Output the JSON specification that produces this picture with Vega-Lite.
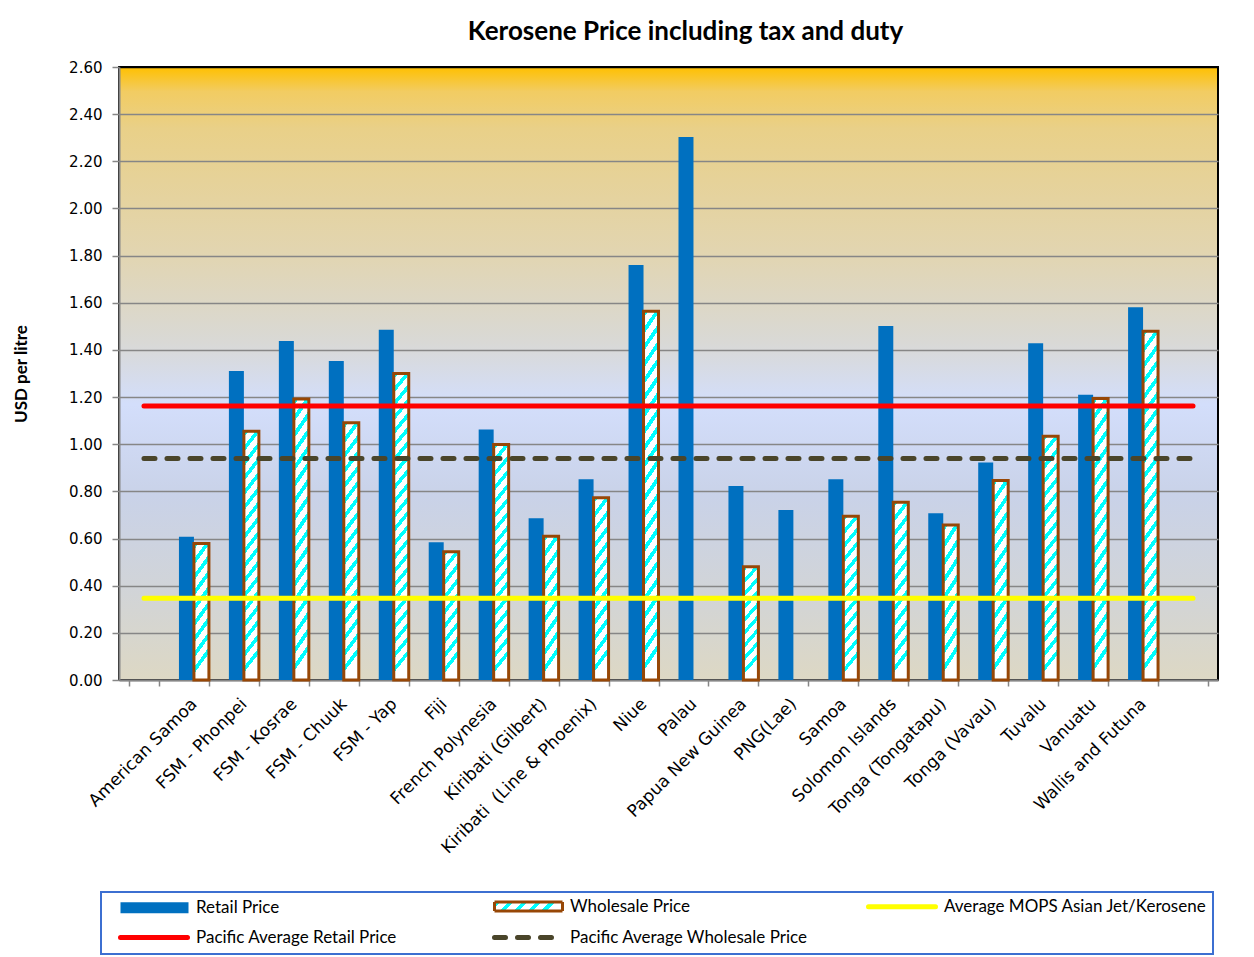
{
  "$schema": "https://vega.github.io/schema/vega-lite/v6.json",
  "width": 1099,
  "height": 613,
  "autosize": {"type": "none"},
  "padding": {"left": 119, "top": 67, "right": 36, "bottom": 277},
  "background": "white",
  "title": {"text": "Kerosene Price including tax and duty", "font": "Lato", "fontSize": 26, "fontWeight": "bold", "color": "black", "anchor": "middle", "dx": 17, "offset": 15},
  "view": {
    "stroke": "black",
    "strokeWidth": 2,
    "fill": {"gradient": "linear", "x1": 0, "y1": 0, "x2": 0, "y2": 1, "stops": [
      {"offset": 0, "color": "#FFC000"},
      {"offset": 0.04, "color": "#F2CC62"},
      {"offset": 0.1, "color": "#E9D088"},
      {"offset": 0.3, "color": "#E2D5B0"},
      {"offset": 0.45, "color": "#D9D9D6"},
      {"offset": 0.55, "color": "#D3DEFB"},
      {"offset": 0.7, "color": "#C9D2E8"},
      {"offset": 0.85, "color": "#D1D4D8"},
      {"offset": 1, "color": "#DDD8C4"}
    ]}
  },
  "datasets": {
    "bars": [
      {"c": "American Samoa", "s": "Retail Price", "v": 0.608},
      {"c": "American Samoa", "s": "Wholesale Price", "v": 0.579},
      {"c": "FSM - Phonpei", "s": "Retail Price", "v": 1.311},
      {"c": "FSM - Phonpei", "s": "Wholesale Price", "v": 1.055},
      {"c": "FSM - Kosrae", "s": "Retail Price", "v": 1.438},
      {"c": "FSM - Kosrae", "s": "Wholesale Price", "v": 1.192},
      {"c": "FSM - Chuuk", "s": "Retail Price", "v": 1.353},
      {"c": "FSM - Chuuk", "s": "Wholesale Price", "v": 1.091},
      {"c": "FSM - Yap", "s": "Retail Price", "v": 1.486},
      {"c": "FSM - Yap", "s": "Wholesale Price", "v": 1.300},
      {"c": "Fiji", "s": "Retail Price", "v": 0.584},
      {"c": "Fiji", "s": "Wholesale Price", "v": 0.544},
      {"c": "French Polynesia", "s": "Retail Price", "v": 1.063},
      {"c": "French Polynesia", "s": "Wholesale Price", "v": 0.999},
      {"c": "Kiribati (Gilbert)", "s": "Retail Price", "v": 0.686},
      {"c": "Kiribati (Gilbert)", "s": "Wholesale Price", "v": 0.610},
      {"c": "Kiribati \u00a0(Line & Phoenix)", "s": "Retail Price", "v": 0.851},
      {"c": "Kiribati \u00a0(Line & Phoenix)", "s": "Wholesale Price", "v": 0.773},
      {"c": "Niue", "s": "Retail Price", "v": 1.760},
      {"c": "Niue", "s": "Wholesale Price", "v": 1.564},
      {"c": "Palau", "s": "Retail Price", "v": 2.303},
      {"c": "Papua New Guinea", "s": "Retail Price", "v": 0.823},
      {"c": "Papua New Guinea", "s": "Wholesale Price", "v": 0.480},
      {"c": "PNG(Lae)", "s": "Retail Price", "v": 0.721},
      {"c": "Samoa", "s": "Retail Price", "v": 0.851},
      {"c": "Samoa", "s": "Wholesale Price", "v": 0.695},
      {"c": "Solomon Islands", "s": "Retail Price", "v": 1.501},
      {"c": "Solomon Islands", "s": "Wholesale Price", "v": 0.754},
      {"c": "Tonga (Tongatapu)", "s": "Retail Price", "v": 0.707},
      {"c": "Tonga (Tongatapu)", "s": "Wholesale Price", "v": 0.657},
      {"c": "Tonga (Vavau)", "s": "Retail Price", "v": 0.922},
      {"c": "Tonga (Vavau)", "s": "Wholesale Price", "v": 0.846},
      {"c": "Tuvalu", "s": "Retail Price", "v": 1.428},
      {"c": "Tuvalu", "s": "Wholesale Price", "v": 1.034},
      {"c": "Vanuatu", "s": "Retail Price", "v": 1.210},
      {"c": "Vanuatu", "s": "Wholesale Price", "v": 1.194},
      {"c": "Wallis and Futuna", "s": "Retail Price", "v": 1.581},
      {"c": "Wallis and Futuna", "s": "Wholesale Price", "v": 1.479}
    ],
    "lines": [
      {"c": " ", "s": "Average MOPS Asian Jet/Kerosene", "v": 0.347},
      {"c": "  ", "s": "Average MOPS Asian Jet/Kerosene", "v": 0.347},
      {"c": " ", "s": "Pacific Average Retail Price", "v": 1.162},
      {"c": "  ", "s": "Pacific Average Retail Price", "v": 1.162},
      {"c": " ", "s": "Pacific Average Wholesale Price", "v": 0.939},
      {"c": "  ", "s": "Pacific Average Wholesale Price", "v": 0.939}
    ]
  },
  "layer": [
    {
      "data": {"name": "bars"},
      "mark": {"type": "bar"},
      "encoding": {
        "x": {
          "field": "c", "type": "nominal",
          "scale": {"domain": [" ", "American Samoa", "FSM - Phonpei", "FSM - Kosrae", "FSM - Chuuk", "FSM - Yap", "Fiji", "French Polynesia", "Kiribati (Gilbert)", "Kiribati \u00a0(Line & Phoenix)", "Niue", "Palau", "Papua New Guinea", "PNG(Lae)", "Samoa", "Solomon Islands", "Tonga (Tongatapu)", "Tonga (Vavau)", "Tuvalu", "Vanuatu", "Wallis and Futuna", "  "], "paddingInner": 0.4, "paddingOuter": 0.2},
          "axis": {"title": null}
        },
        "xOffset": {"field": "s", "type": "nominal", "scale": {"domain": ["Retail Price", "Wholesale Price"], "paddingInner": 0, "paddingOuter": 0}},
        "y": {
          "field": "v", "type": "quantitative",
          "scale": {"domain": [0, 2.6], "nice": false, "zero": true},
          "axis": {"title": "USD per litre", "values": [0, 0.2, 0.4, 0.6, 0.8, 1, 1.2, 1.4, 1.6, 1.8, 2, 2.2, 2.4, 2.6], "format": ".2f",
            "gridColor": {"condition": {"test": "datum.value === 2.6", "value": "black"}, "value": "#868686"}}
        },
        "strokeWidth": {"condition": {"test": "datum.s === 'Retail Price'", "value": 0}, "value": 3},
        "stroke": {"value": "#974706"},
        "fill": {
          "condition": [
            {"test": "datum.s === 'Retail Price'", "value": "#0070C0"},
            {"test": "datum.v < 0.68", "value": {"gradient": "linear", "x1": 0, "y1": 0, "x2": 0.15, "y2": 1, "stops": [
              {"offset": 0, "color": "#00FFFF"}, {"offset": 0.0444, "color": "#00FFFF"}, {"offset": 0.0444, "color": "#FFFFFF"}, {"offset": 0.1111, "color": "#FFFFFF"},
              {"offset": 0.1111, "color": "#00FFFF"}, {"offset": 0.1556, "color": "#00FFFF"}, {"offset": 0.1556, "color": "#FFFFFF"}, {"offset": 0.2222, "color": "#FFFFFF"},
              {"offset": 0.2222, "color": "#00FFFF"}, {"offset": 0.2667, "color": "#00FFFF"}, {"offset": 0.2667, "color": "#FFFFFF"}, {"offset": 0.3333, "color": "#FFFFFF"},
              {"offset": 0.3333, "color": "#00FFFF"}, {"offset": 0.3778, "color": "#00FFFF"}, {"offset": 0.3778, "color": "#FFFFFF"}, {"offset": 0.4444, "color": "#FFFFFF"},
              {"offset": 0.4444, "color": "#00FFFF"}, {"offset": 0.4889, "color": "#00FFFF"}, {"offset": 0.4889, "color": "#FFFFFF"}, {"offset": 0.5556, "color": "#FFFFFF"},
              {"offset": 0.5556, "color": "#00FFFF"}, {"offset": 0.6, "color": "#00FFFF"}, {"offset": 0.6, "color": "#FFFFFF"}, {"offset": 0.6667, "color": "#FFFFFF"},
              {"offset": 0.6667, "color": "#00FFFF"}, {"offset": 0.7111, "color": "#00FFFF"}, {"offset": 0.7111, "color": "#FFFFFF"}, {"offset": 0.7778, "color": "#FFFFFF"},
              {"offset": 0.7778, "color": "#00FFFF"}, {"offset": 0.8222, "color": "#00FFFF"}, {"offset": 0.8222, "color": "#FFFFFF"}, {"offset": 0.8889, "color": "#FFFFFF"},
              {"offset": 0.8889, "color": "#00FFFF"}, {"offset": 0.9333, "color": "#00FFFF"}, {"offset": 0.9333, "color": "#FFFFFF"}, {"offset": 1, "color": "#FFFFFF"}
            ]}},
            {"test": "datum.v < 0.95", "value": {"gradient": "linear", "x1": 0, "y1": 0, "x2": 0.11, "y2": 1, "stops": [
              {"offset": 0, "color": "#00FFFF"}, {"offset": 0.0333, "color": "#00FFFF"}, {"offset": 0.0333, "color": "#FFFFFF"}, {"offset": 0.0833, "color": "#FFFFFF"},
              {"offset": 0.0833, "color": "#00FFFF"}, {"offset": 0.1167, "color": "#00FFFF"}, {"offset": 0.1167, "color": "#FFFFFF"}, {"offset": 0.1667, "color": "#FFFFFF"},
              {"offset": 0.1667, "color": "#00FFFF"}, {"offset": 0.2, "color": "#00FFFF"}, {"offset": 0.2, "color": "#FFFFFF"}, {"offset": 0.25, "color": "#FFFFFF"},
              {"offset": 0.25, "color": "#00FFFF"}, {"offset": 0.2833, "color": "#00FFFF"}, {"offset": 0.2833, "color": "#FFFFFF"}, {"offset": 0.3333, "color": "#FFFFFF"},
              {"offset": 0.3333, "color": "#00FFFF"}, {"offset": 0.3667, "color": "#00FFFF"}, {"offset": 0.3667, "color": "#FFFFFF"}, {"offset": 0.4167, "color": "#FFFFFF"},
              {"offset": 0.4167, "color": "#00FFFF"}, {"offset": 0.45, "color": "#00FFFF"}, {"offset": 0.45, "color": "#FFFFFF"}, {"offset": 0.5, "color": "#FFFFFF"},
              {"offset": 0.5, "color": "#00FFFF"}, {"offset": 0.5333, "color": "#00FFFF"}, {"offset": 0.5333, "color": "#FFFFFF"}, {"offset": 0.5833, "color": "#FFFFFF"},
              {"offset": 0.5833, "color": "#00FFFF"}, {"offset": 0.6167, "color": "#00FFFF"}, {"offset": 0.6167, "color": "#FFFFFF"}, {"offset": 0.6667, "color": "#FFFFFF"},
              {"offset": 0.6667, "color": "#00FFFF"}, {"offset": 0.7, "color": "#00FFFF"}, {"offset": 0.7, "color": "#FFFFFF"}, {"offset": 0.75, "color": "#FFFFFF"},
              {"offset": 0.75, "color": "#00FFFF"}, {"offset": 0.7833, "color": "#00FFFF"}, {"offset": 0.7833, "color": "#FFFFFF"}, {"offset": 0.8333, "color": "#FFFFFF"},
              {"offset": 0.8333, "color": "#00FFFF"}, {"offset": 0.8667, "color": "#00FFFF"}, {"offset": 0.8667, "color": "#FFFFFF"}, {"offset": 0.9167, "color": "#FFFFFF"},
              {"offset": 0.9167, "color": "#00FFFF"}, {"offset": 0.95, "color": "#00FFFF"}, {"offset": 0.95, "color": "#FFFFFF"}, {"offset": 1, "color": "#FFFFFF"}
            ]}},
            {"test": "datum.v < 1.25", "value": {"gradient": "linear", "x1": 0, "y1": 0, "x2": 0.077, "y2": 1, "stops": [
              {"offset": 0, "color": "#00FFFF"}, {"offset": 0.0235, "color": "#00FFFF"}, {"offset": 0.0235, "color": "#FFFFFF"}, {"offset": 0.0588, "color": "#FFFFFF"},
              {"offset": 0.0588, "color": "#00FFFF"}, {"offset": 0.0824, "color": "#00FFFF"}, {"offset": 0.0824, "color": "#FFFFFF"}, {"offset": 0.1176, "color": "#FFFFFF"},
              {"offset": 0.1176, "color": "#00FFFF"}, {"offset": 0.1412, "color": "#00FFFF"}, {"offset": 0.1412, "color": "#FFFFFF"}, {"offset": 0.1765, "color": "#FFFFFF"},
              {"offset": 0.1765, "color": "#00FFFF"}, {"offset": 0.2, "color": "#00FFFF"}, {"offset": 0.2, "color": "#FFFFFF"}, {"offset": 0.2353, "color": "#FFFFFF"},
              {"offset": 0.2353, "color": "#00FFFF"}, {"offset": 0.2588, "color": "#00FFFF"}, {"offset": 0.2588, "color": "#FFFFFF"}, {"offset": 0.2941, "color": "#FFFFFF"},
              {"offset": 0.2941, "color": "#00FFFF"}, {"offset": 0.3176, "color": "#00FFFF"}, {"offset": 0.3176, "color": "#FFFFFF"}, {"offset": 0.3529, "color": "#FFFFFF"},
              {"offset": 0.3529, "color": "#00FFFF"}, {"offset": 0.3765, "color": "#00FFFF"}, {"offset": 0.3765, "color": "#FFFFFF"}, {"offset": 0.4118, "color": "#FFFFFF"},
              {"offset": 0.4118, "color": "#00FFFF"}, {"offset": 0.4353, "color": "#00FFFF"}, {"offset": 0.4353, "color": "#FFFFFF"}, {"offset": 0.4706, "color": "#FFFFFF"},
              {"offset": 0.4706, "color": "#00FFFF"}, {"offset": 0.4941, "color": "#00FFFF"}, {"offset": 0.4941, "color": "#FFFFFF"}, {"offset": 0.5294, "color": "#FFFFFF"},
              {"offset": 0.5294, "color": "#00FFFF"}, {"offset": 0.5529, "color": "#00FFFF"}, {"offset": 0.5529, "color": "#FFFFFF"}, {"offset": 0.5882, "color": "#FFFFFF"},
              {"offset": 0.5882, "color": "#00FFFF"}, {"offset": 0.6118, "color": "#00FFFF"}, {"offset": 0.6118, "color": "#FFFFFF"}, {"offset": 0.6471, "color": "#FFFFFF"},
              {"offset": 0.6471, "color": "#00FFFF"}, {"offset": 0.6706, "color": "#00FFFF"}, {"offset": 0.6706, "color": "#FFFFFF"}, {"offset": 0.7059, "color": "#FFFFFF"},
              {"offset": 0.7059, "color": "#00FFFF"}, {"offset": 0.7294, "color": "#00FFFF"}, {"offset": 0.7294, "color": "#FFFFFF"}, {"offset": 0.7647, "color": "#FFFFFF"},
              {"offset": 0.7647, "color": "#00FFFF"}, {"offset": 0.7882, "color": "#00FFFF"}, {"offset": 0.7882, "color": "#FFFFFF"}, {"offset": 0.8235, "color": "#FFFFFF"},
              {"offset": 0.8235, "color": "#00FFFF"}, {"offset": 0.8471, "color": "#00FFFF"}, {"offset": 0.8471, "color": "#FFFFFF"}, {"offset": 0.8824, "color": "#FFFFFF"},
              {"offset": 0.8824, "color": "#00FFFF"}, {"offset": 0.9059, "color": "#00FFFF"}, {"offset": 0.9059, "color": "#FFFFFF"}, {"offset": 0.9412, "color": "#FFFFFF"},
              {"offset": 0.9412, "color": "#00FFFF"}, {"offset": 0.9647, "color": "#00FFFF"}, {"offset": 0.9647, "color": "#FFFFFF"}, {"offset": 1, "color": "#FFFFFF"}
            ]}}
          ],
          "value": {"gradient": "linear", "x1": 0, "y1": 0, "x2": 0.059, "y2": 1, "stops": [
            {"offset": 0, "color": "#00FFFF"}, {"offset": 0.0182, "color": "#00FFFF"}, {"offset": 0.0182, "color": "#FFFFFF"}, {"offset": 0.0455, "color": "#FFFFFF"},
            {"offset": 0.0455, "color": "#00FFFF"}, {"offset": 0.0636, "color": "#00FFFF"}, {"offset": 0.0636, "color": "#FFFFFF"}, {"offset": 0.0909, "color": "#FFFFFF"},
            {"offset": 0.0909, "color": "#00FFFF"}, {"offset": 0.1091, "color": "#00FFFF"}, {"offset": 0.1091, "color": "#FFFFFF"}, {"offset": 0.1364, "color": "#FFFFFF"},
            {"offset": 0.1364, "color": "#00FFFF"}, {"offset": 0.1545, "color": "#00FFFF"}, {"offset": 0.1545, "color": "#FFFFFF"}, {"offset": 0.1818, "color": "#FFFFFF"},
            {"offset": 0.1818, "color": "#00FFFF"}, {"offset": 0.2, "color": "#00FFFF"}, {"offset": 0.2, "color": "#FFFFFF"}, {"offset": 0.2273, "color": "#FFFFFF"},
            {"offset": 0.2273, "color": "#00FFFF"}, {"offset": 0.2455, "color": "#00FFFF"}, {"offset": 0.2455, "color": "#FFFFFF"}, {"offset": 0.2727, "color": "#FFFFFF"},
            {"offset": 0.2727, "color": "#00FFFF"}, {"offset": 0.2909, "color": "#00FFFF"}, {"offset": 0.2909, "color": "#FFFFFF"}, {"offset": 0.3182, "color": "#FFFFFF"},
            {"offset": 0.3182, "color": "#00FFFF"}, {"offset": 0.3364, "color": "#00FFFF"}, {"offset": 0.3364, "color": "#FFFFFF"}, {"offset": 0.3636, "color": "#FFFFFF"},
            {"offset": 0.3636, "color": "#00FFFF"}, {"offset": 0.3818, "color": "#00FFFF"}, {"offset": 0.3818, "color": "#FFFFFF"}, {"offset": 0.4091, "color": "#FFFFFF"},
            {"offset": 0.4091, "color": "#00FFFF"}, {"offset": 0.4273, "color": "#00FFFF"}, {"offset": 0.4273, "color": "#FFFFFF"}, {"offset": 0.4545, "color": "#FFFFFF"},
            {"offset": 0.4545, "color": "#00FFFF"}, {"offset": 0.4727, "color": "#00FFFF"}, {"offset": 0.4727, "color": "#FFFFFF"}, {"offset": 0.5, "color": "#FFFFFF"},
            {"offset": 0.5, "color": "#00FFFF"}, {"offset": 0.5182, "color": "#00FFFF"}, {"offset": 0.5182, "color": "#FFFFFF"}, {"offset": 0.5455, "color": "#FFFFFF"},
            {"offset": 0.5455, "color": "#00FFFF"}, {"offset": 0.5636, "color": "#00FFFF"}, {"offset": 0.5636, "color": "#FFFFFF"}, {"offset": 0.5909, "color": "#FFFFFF"},
            {"offset": 0.5909, "color": "#00FFFF"}, {"offset": 0.6091, "color": "#00FFFF"}, {"offset": 0.6091, "color": "#FFFFFF"}, {"offset": 0.6364, "color": "#FFFFFF"},
            {"offset": 0.6364, "color": "#00FFFF"}, {"offset": 0.6545, "color": "#00FFFF"}, {"offset": 0.6545, "color": "#FFFFFF"}, {"offset": 0.6818, "color": "#FFFFFF"},
            {"offset": 0.6818, "color": "#00FFFF"}, {"offset": 0.7, "color": "#00FFFF"}, {"offset": 0.7, "color": "#FFFFFF"}, {"offset": 0.7273, "color": "#FFFFFF"},
            {"offset": 0.7273, "color": "#00FFFF"}, {"offset": 0.7455, "color": "#00FFFF"}, {"offset": 0.7455, "color": "#FFFFFF"}, {"offset": 0.7727, "color": "#FFFFFF"},
            {"offset": 0.7727, "color": "#00FFFF"}, {"offset": 0.7909, "color": "#00FFFF"}, {"offset": 0.7909, "color": "#FFFFFF"}, {"offset": 0.8182, "color": "#FFFFFF"},
            {"offset": 0.8182, "color": "#00FFFF"}, {"offset": 0.8364, "color": "#00FFFF"}, {"offset": 0.8364, "color": "#FFFFFF"}, {"offset": 0.8636, "color": "#FFFFFF"},
            {"offset": 0.8636, "color": "#00FFFF"}, {"offset": 0.8818, "color": "#00FFFF"}, {"offset": 0.8818, "color": "#FFFFFF"}, {"offset": 0.9091, "color": "#FFFFFF"},
            {"offset": 0.9091, "color": "#00FFFF"}, {"offset": 0.9273, "color": "#00FFFF"}, {"offset": 0.9273, "color": "#FFFFFF"}, {"offset": 0.9545, "color": "#FFFFFF"},
            {"offset": 0.9545, "color": "#00FFFF"}, {"offset": 0.9727, "color": "#00FFFF"}, {"offset": 0.9727, "color": "#FFFFFF"}, {"offset": 1, "color": "#FFFFFF"}
          ]}
        }
      }
    },
    {
      "data": {"name": "lines"},
      "mark": {"type": "line", "strokeWidth": 5, "strokeCap": "round"},
      "encoding": {
        "x": {"field": "c", "type": "nominal"},
        "y": {"field": "v", "type": "quantitative"},
        "stroke": {
          "field": "s", "type": "nominal",
          "scale": {"domain": ["Retail Price", "Wholesale Price", "Average MOPS Asian Jet/Kerosene", "Pacific Average Retail Price", "Pacific Average Wholesale Price"], "range": ["#0070C0", "#974706", "#FFFF00", "#FF0000", "#4A452A"]},
          "legend": {
            "title": null, "orient": "none", "legendX": -18, "legendY": 825, "direction": "horizontal", "columns": 3, "gridAlign": "all",
            "columnPadding": 22, "rowPadding": 10, "padding": 6,
            "labelFont": "Lato", "labelFontSize": 17, "labelColor": "black", "labelLimit": 400, "labelOffset": 62,
            "symbolSize": 100, "symbolOffset": 10, "strokeColor": "#3C6FD1",
            "encode": {
              "legend": {"update": {"strokeWidth": {"value": 2}}},
              "symbols": {"update": {
                "shape": {"signal": "datum.value === 'Retail Price' ? 'M-1,-1.1H12.6V1.1H-1Z' : datum.value === 'Wholesale Price' ? 'M-1,-0.9H12.6V0.9H-1Z' : datum.value === 'Pacific Average Wholesale Price' ? 'M-1,0H11.2' : 'M-1,0H12.4'"},
                "fill": {"signal": "datum.value === 'Retail Price' ? '#0070C0' : datum.value === 'Wholesale Price' ? {gradient: 'linear', x1: 0, y1: 0, x2: 1, y2: 0.13, stops: [{offset: 0, color: '#00FFFF'}, {offset: 0.08, color: '#00FFFF'}, {offset: 0.08, color: '#FFFFFF'}, {offset: 0.2, color: '#FFFFFF'}, {offset: 0.2, color: '#00FFFF'}, {offset: 0.28, color: '#00FFFF'}, {offset: 0.28, color: '#FFFFFF'}, {offset: 0.4, color: '#FFFFFF'}, {offset: 0.4, color: '#00FFFF'}, {offset: 0.48, color: '#00FFFF'}, {offset: 0.48, color: '#FFFFFF'}, {offset: 0.6, color: '#FFFFFF'}, {offset: 0.6, color: '#00FFFF'}, {offset: 0.68, color: '#00FFFF'}, {offset: 0.68, color: '#FFFFFF'}, {offset: 0.8, color: '#FFFFFF'}, {offset: 0.8, color: '#00FFFF'}, {offset: 0.88, color: '#00FFFF'}, {offset: 0.88, color: '#FFFFFF'}, {offset: 1, color: '#FFFFFF'}]} : 'transparent'"},
                "stroke": {"signal": "datum.value === 'Retail Price' ? 'transparent' : datum.value === 'Wholesale Price' ? '#974706' : datum.value === 'Average MOPS Asian Jet/Kerosene' ? '#FFFF00' : datum.value === 'Pacific Average Retail Price' ? '#FF0000' : '#4A452A'"},
                "strokeWidth": {"signal": "datum.value === 'Retail Price' ? 0 : datum.value === 'Wholesale Price' ? 3 : 5"},
                "strokeDash": {"signal": "datum.value === 'Pacific Average Wholesale Price' ? [11, 12] : [1, 0]"},
                "strokeCap": {"signal": "datum.value === 'Wholesale Price' ? 'butt' : 'round'"},
                "opacity": {"value": 1}
              }}
            }
          }
        },
        "strokeDash": {
          "field": "s", "type": "nominal", "legend": null,
          "scale": {"domain": ["Retail Price", "Wholesale Price", "Average MOPS Asian Jet/Kerosene", "Pacific Average Retail Price", "Pacific Average Wholesale Price"], "range": [[1, 0], [1, 0], [1, 0], [1, 0], [11, 12]]}
        }
      }
    }
  ],
  "config": {
    "axis": {"domainColor": "#868686", "domainWidth": 2, "tickColor": "#868686", "tickWidth": 1.5, "labelColor": "black"},
    "axisX": {"grid": false, "tickBand": "extent", "tickSize": 6, "labelAngle": -45, "labelBaseline": "middle", "labelFont": "DejaVu Sans", "labelFontSize": 17, "labelPadding": 15, "labelLimit": 400, "labelOverlap": false},
    "axisY": {"grid": true, "gridWidth": 1.5, "tickSize": 7, "labelFont": "DejaVu Sans", "labelFontSize": 15, "labelPadding": 10, "titleFont": "Lato", "titleFontSize": 17, "titleFontWeight": "bold", "titleColor": "black", "titlePadding": 38}
  }
}
